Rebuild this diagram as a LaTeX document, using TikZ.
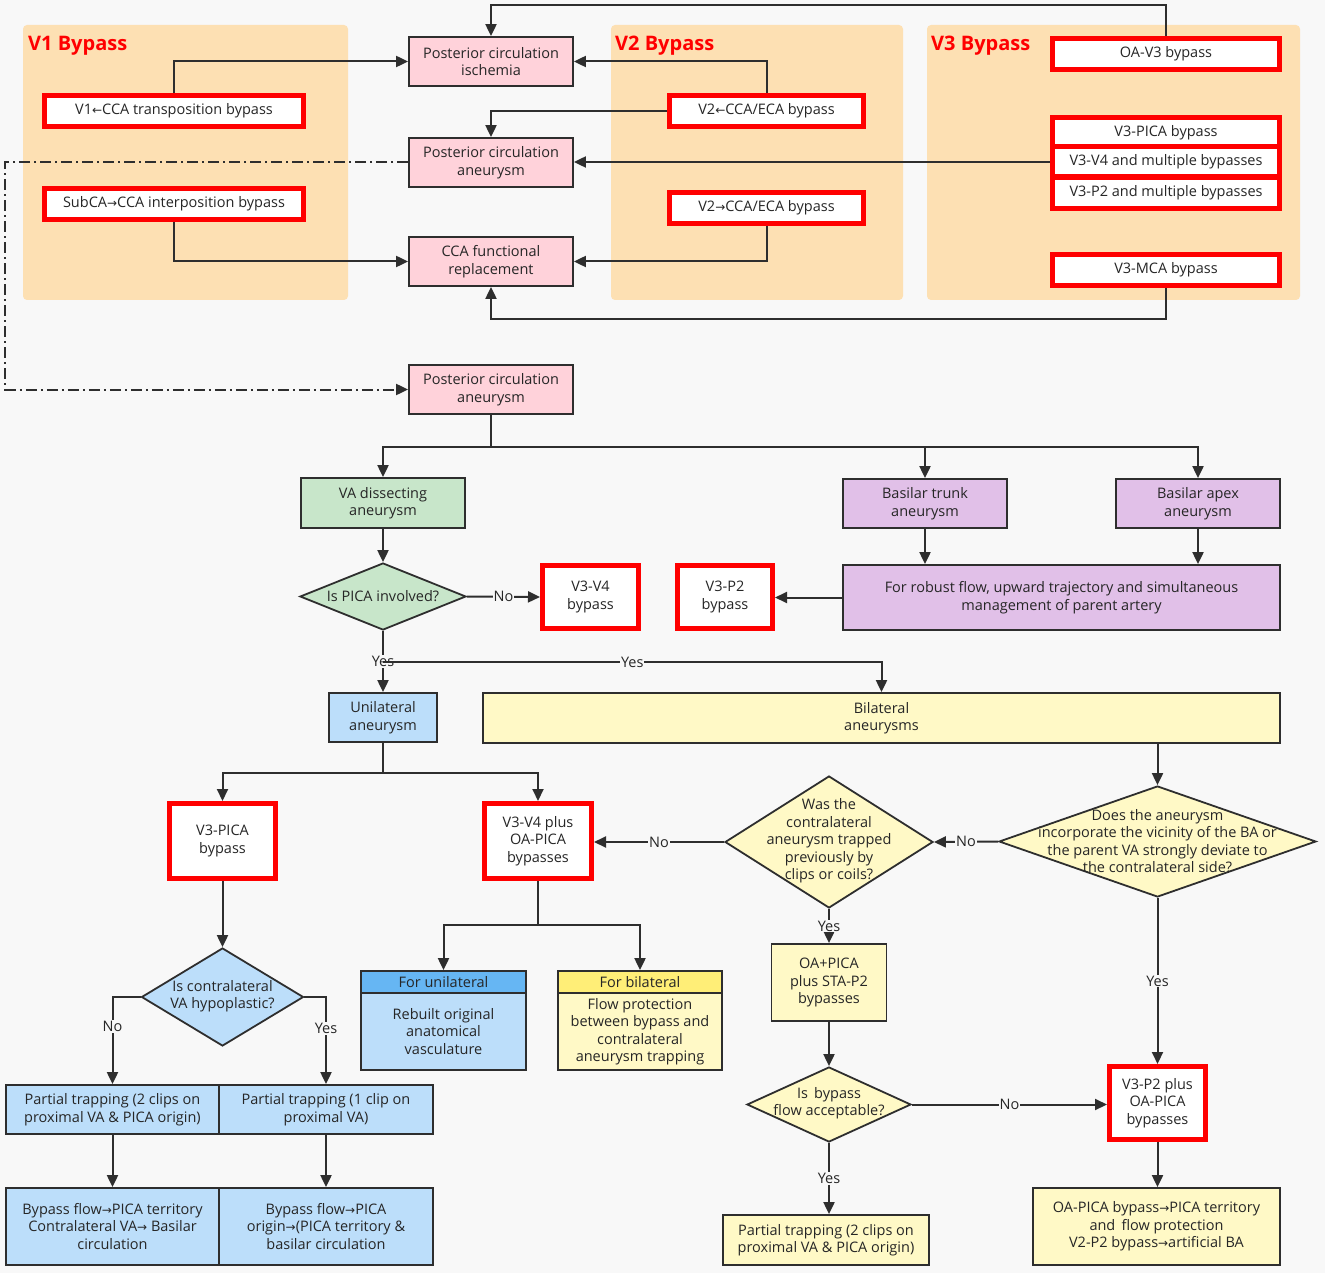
\documentclass[tikz,border=0pt]{standalone}
\usepackage{fontspec}
\setmainfont{Open Sans}
\newfontfamily\arrowfont{DejaVu Sans}
\usetikzlibrary{shapes.geometric,arrows.meta,calc}
\definecolor{bgC}{HTML}{F8F8F8}
\definecolor{panelC}{HTML}{FDE0B3}
\definecolor{pinkC}{HTML}{FFD2DA}
\definecolor{greenC}{HTML}{C8E6CA}
\definecolor{purpleC}{HTML}{E1C0E8}
\definecolor{blueC}{HTML}{BCDEFA}
\definecolor{blueHC}{HTML}{66B6F3}
\definecolor{yellowC}{HTML}{FFF9C6}
\definecolor{yellowHC}{HTML}{FFEE77}
\definecolor{redC}{HTML}{FF0000}
\definecolor{lineC}{HTML}{2E2E2E}
\newcommand\fs{\fontsize{14.5}{17.5}\selectfont}
\newcommand\larr{{\arrowfont\fontsize{12}{12}\selectfont ←}}
\newcommand\rarr{{\arrowfont\fontsize{12}{12}\selectfont →}}
\tikzset{
  base/.style={draw=lineC, line width=1.8pt, align=center, inner sep=0pt, font=\fs, text=black!85},
  pinkbox/.style={base, fill=pinkC, minimum width=164pt, minimum height=49pt},
  greenbox/.style={base, fill=greenC},
  purplebox/.style={base, fill=purpleC},
  bluebox/.style={base, fill=blueC},
  yellowbox/.style={base, fill=yellowC},
  redbox/.style={draw=redC, line width=5pt, fill=white, align=center, inner sep=0pt, font=\fs, text=black!85},
  diam/.style={diamond, draw=lineC, line width=1.8pt, inner sep=0pt},
  dtext/.style={align=center, font=\fs, text=black!85, inner sep=0pt},
  title/.style={font=\fontsize{20}{24}\selectfont\bfseries, text=redC, anchor=west, inner sep=0pt},
  arr/.style={draw=lineC, line width=2pt, -{Triangle[length=12pt,width=11pt]}},
  ln/.style={draw=lineC, line width=2pt},
  lbl/.style={fill=bgC, inner sep=1pt, font=\fs, text=black!85},
}
\begin{document}
\begin{tikzpicture}[x=1pt,y=-1pt]
\fill[bgC] (0,0) rectangle (1325,1273);
\useasboundingbox (0,0) rectangle (1325,1273);
% panels
\fill[panelC, rounded corners=4pt] (23,25) rectangle (348,300);
\fill[panelC, rounded corners=4pt] (611,25) rectangle (903,300);
\fill[panelC, rounded corners=4pt] (927,25) rectangle (1300,300);
\node[title] (t1) at (28,46) {V1 Bypass};
\node[title] (t2) at (615,46) {V2 Bypass};
\node[title] (t3) at (931,46) {V3 Bypass};
% pink nodes
\node[pinkbox] (pci) at (491,61.5) {Posterior circulation\\ischemia};
\node[pinkbox] (pca1) at (491,162.5) {Posterior circulation\\aneurysm};
\node[pinkbox] (cca) at (491,261.5) {CCA functional\\replacement};
\node[pinkbox] (pca2) at (491,389.5) {Posterior circulation\\aneurysm};
% top red boxes
\node[redbox, minimum width=259pt, minimum height=31pt] (v1) at (174,111) {V1\larr CCA transposition bypass};
\node[redbox, minimum width=259pt, minimum height=31pt] (subca) at (174,204) {SubCA\rarr CCA interposition bypass};
\node[redbox, minimum width=194pt, minimum height=31pt] (v2a) at (766.5,111) {V2\larr CCA/ECA bypass};
\node[redbox, minimum width=194pt, minimum height=31pt] (v2b) at (766.5,208) {V2\rarr CCA/ECA bypass};
\node[redbox, minimum width=227pt, minimum height=31pt] (oav3) at (1166,54) {OA-V3 bypass};
\node[redbox, minimum width=227pt, minimum height=29.5pt] (v3pica) at (1166,132.25) {V3-PICA bypass};
\node[redbox, minimum width=227pt, minimum height=30pt] (v3v4m) at (1166,162) {V3-V4 and multiple bypasses};
\node[redbox, minimum width=227pt, minimum height=31pt] (v3p2m) at (1166,192.75) {V3-P2 and multiple bypasses};
\node[redbox, minimum width=227pt, minimum height=31pt] (v3mca) at (1166,270) {V3-MCA bypass};
% top connectors
\coordinate (topY) at (0,5);
\coordinate (botY) at (0,319);
\coordinate (leftX) at (5,0);
\draw[arr] (v1.north) |- (pci.west);
\draw[arr] (subca.south) |- (cca.west);
\draw[arr] (v2a.north) |- (pci.east);
\draw[arr] (v2a.west) -| (pca1.north);
\draw[arr] (v3v4m.west) -- (v3v4m.west -| pca1.east);
\draw[arr] (v2b.south) |- (cca.east);
\draw[arr] (oav3.north) -- (oav3.north |- topY) -| (pci.north);
\draw[arr] (v3mca.south) -- (v3mca.south |- botY) -| (cca.south);
\draw[arr, dash pattern=on 11pt off 4pt on 2pt off 4pt] (pca1.west) -- (pca1.west -| leftX) |- (pca2.west);
% middle
\node[greenbox, minimum width=164pt, minimum height=50pt] (vad) at (383,503) {VA dissecting\\aneurysm};
\node[purplebox, minimum width=164pt, minimum height=49pt] (btrunk) at (925,503.5) {Basilar trunk\\aneurysm};
\node[purplebox, minimum width=164pt, minimum height=49pt] (bapex) at (1198,503.5) {Basilar apex\\aneurysm};
\node[purplebox, minimum width=437pt, minimum height=65pt] (robust) at (1061.5,597.5) {For robust flow, upward trajectory and simultaneous\\management of parent artery};
\node[diam, fill=greenC, minimum width=166pt, minimum height=67pt] (dpica) at (383,596.5) {};
\node[dtext] (dpicat) at (dpica) {Is PICA involved?};
\node[redbox, minimum width=96pt, minimum height=63pt] (v3v4b) at (590.5,597) {V3-V4\\bypass};
\node[redbox, minimum width=95pt, minimum height=63pt] (v3p2b) at (725,597) {V3-P2\\bypass};
\node[bluebox, minimum width=108pt, minimum height=49pt] (unil) at (383,717.5) {Unilateral\\aneurysm};
\node[yellowbox, minimum width=797pt, minimum height=50pt] (bil) at (881.5,718) {Bilateral\\aneurysms};
\coordinate (split1) at (491,447);
\draw[ln] (pca2.south) -- (split1);
\draw[arr] (split1) -| (vad.north);
\draw[arr] (split1) -| (btrunk.north);
\draw[arr] (split1) -| (bapex.north);
\draw[arr] (btrunk.south) -- (btrunk.south |- robust.north);
\draw[arr] (bapex.south) -- (bapex.south |- robust.north);
\draw[arr] (robust.west) -- (robust.west -| v3p2b.east);
\draw[arr] (vad.south) -- (dpica.north);
\draw[arr] (dpica.east) -- node[lbl]{No} (v3v4b.west);
\coordinate (yesY) at (0,662);
\draw[arr] (dpica.south) -- node[lbl]{Yes} (unil.north);
\draw[arr] (dpica.south |- yesY) -| node[lbl, pos=0.25]{Yes} (bil.north);
% lower middle
\node[redbox, minimum width=106pt, minimum height=75pt] (v3pica2) at (222.5,841) {V3-PICA\\bypass};
\node[redbox, minimum width=107pt, minimum height=75pt] (v3v4oa) at (538,841) {V3-V4 plus\\OA-PICA\\bypasses};
\coordinate (split2) at (383,773);
\draw[ln] (unil.south) -- (split2);
\draw[arr] (split2) -| (v3pica2.north);
\draw[arr] (split2) -| (v3v4oa.north);
\node[diam, fill=yellowC, minimum width=317pt, minimum height=111pt] (ddoes) at (1157.5,841.5) {};
\node[dtext] (ddoest) at (1157.5,841) {Does the aneurysm\\incorporate the vicinity of the BA or\\the parent VA strongly deviate to\\the contralateral side?};
\node[diam, fill=yellowC, minimum width=208pt, minimum height=132pt] (dwas) at (829,842) {};
\node[dtext] (dwast) at (829,841) {Was the\\contralateral\\aneurysm trapped\\previously by\\clips or coils?};
\draw[arr] (ddoes.north |- bil.south) -- (ddoes.north);
\draw[arr] (ddoes.west) -- node[lbl]{No} (dwas.east);
\draw[arr] (dwas.west) -- node[lbl]{No} (dwas.west -| v3v4oa.east);
\node[yellowbox, minimum width=115pt, minimum height=77pt] (oapica) at (829,982.5) {OA+PICA\\plus STA-P2\\bypasses};
\node[diam, fill=yellowC, minimum width=164pt, minimum height=75pt] (dflow) at (829,1104.5) {};
\node[dtext] (dflowt) at (829,1103) {Is \,bypass\\flow acceptable?};
\node[redbox, minimum width=96pt, minimum height=73pt] (v3p2oa) at (1157.5,1103) {V3-P2 plus\\OA-PICA\\bypasses};
\node[yellowbox, minimum width=206pt, minimum height=50pt] (ptyel) at (826,1240) {Partial trapping (2 clips on\\proximal VA \& PICA origin)};
\node[yellowbox, minimum width=247pt, minimum height=77pt] (oapicabyp) at (1156.5,1226.5) {OA-PICA bypass\rarr PICA territory\\and \,flow protection\\V2-P2 bypass\rarr artificial BA};
\draw[arr] (dwas.south) -- node[lbl]{Yes} (oapica.north);
\draw[arr] (oapica.south) -- (dflow.north);
\draw[arr] (dflow.east) -- node[lbl]{No} (dflow.east -| v3p2oa.west);
\draw[arr] (dflow.south) -- node[lbl]{Yes} (dflow.south |- ptyel.north);
\draw[arr] (ddoes.south) -- node[lbl]{Yes} (ddoes.south |- v3p2oa.north);
\draw[arr] (v3p2oa.south) -- (v3p2oa.south |- oapicabyp.north);
% for unilateral / bilateral
\node[base, fill=blueHC, minimum width=165pt, minimum height=22pt] (foruh) at (443.5,982) {For unilateral};
\node[bluebox, minimum width=165pt, minimum height=77pt] (forub) at (443.5,1031.5) {Rebuilt original\\anatomical\\vasculature};
\node[base, fill=yellowHC, minimum width=164pt, minimum height=22pt] (forbh) at (640,982) {For bilateral};
\node[yellowbox, minimum width=164pt, minimum height=77pt] (forbb) at (640,1031.5) {Flow protection\\between bypass and\\contralateral\\aneurysm trapping};
\coordinate (split3) at (538,925);
\draw[ln] (v3v4oa.south) -- (split3);
\draw[arr] (split3) -| (foruh.north);
\draw[arr] (split3) -| (forbh.north);
% left bottom
\node[diam, fill=blueC, minimum width=162pt, minimum height=98pt] (dhypo) at (222.5,997) {};
\node[dtext] (dhypot) at (222.5,996) {Is contralateral\\VA hypoplastic?};
\node[bluebox, minimum width=213pt, minimum height=49pt] (ptL) at (112.5,1109.5) {Partial trapping (2 clips on\\proximal VA \& PICA origin)};
\node[bluebox, minimum width=214pt, minimum height=49pt] (ptR) at (326,1109.5) {Partial trapping (1 clip on\\proximal VA)};
\node[bluebox, minimum width=213pt, minimum height=77pt] (bfL) at (112.5,1226.5) {Bypass flow\rarr PICA territory\\Contralateral VA\rarr{} Basilar\\circulation};
\node[bluebox, minimum width=214pt, minimum height=77pt] (bfR) at (326,1226.5) {Bypass flow\rarr PICA\\origin\rarr(PICA territory \&\\basilar circulation};
\draw[arr] (v3pica2.south) -- (dhypo.north);
\draw[arr] (dhypo.west) -| node[lbl, pos=0.67]{No} (ptL.north);
\draw[arr] (dhypo.east) -| node[lbl, pos=0.68]{Yes} (ptR.north);
\draw[arr] (ptL.south) -- (bfL.north);
\draw[arr] (ptR.south) -- (bfR.north);
\end{tikzpicture}
\end{document}
